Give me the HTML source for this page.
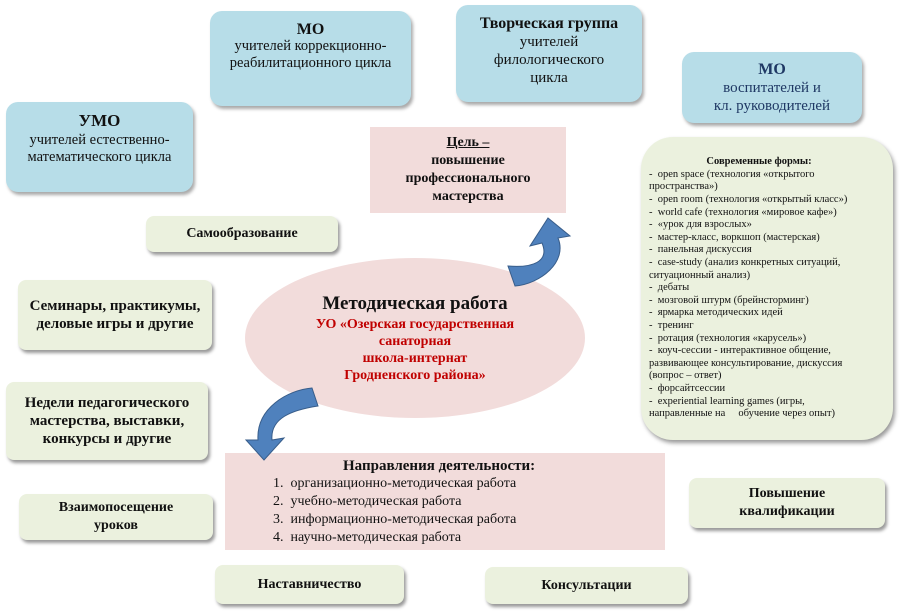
<!DOCTYPE html>
<html><head><meta charset="utf-8"><style>
body{margin:0;width:900px;height:612px;background:#fff;position:relative;overflow:hidden;font-family:"Liberation Serif","DejaVu Serif",serif;color:#111}
.b{position:absolute;box-sizing:border-box;text-align:center;display:flex;flex-direction:column;justify-content:center;align-items:center}
.blue{background:#b7dde8;border-radius:12px;box-shadow:2px 3px 3px #aaa;font-size:14.5px;line-height:17px}
.green{background:#ebf1de;border-radius:8px;box-shadow:2px 3px 3px #999;font-size:14px;font-weight:bold;line-height:18px}
.pink{background:#f2dcdb}
b{font-size:16px}
</style></head><body>
<div class="b blue" style="left:210px;top:11px;width:201px;height:95px;justify-content:flex-start;padding-top:10px"><b>МО</b>учителей коррекционно-<br>реабилитационного цикла</div>
<div class="b blue" style="left:456px;top:5px;width:186px;height:97px;justify-content:flex-start;padding-top:10px;font-size:15px;line-height:18px"><b>Творческая группа</b>учителей<br>филологического<br>цикла</div>
<div class="b blue" style="left:682px;top:52px;width:180px;height:71px;color:#1f3864;font-size:15px;line-height:18px"><b>МО</b>воспитателей и<br>кл. руководителей</div>
<div class="b blue" style="left:6px;top:102px;width:187px;height:90px;justify-content:flex-start;padding-top:8px"><b style="font-size:17px;line-height:22px">УМО</b>учителей естественно-<br>математического цикла</div>
<div class="b pink" style="left:370px;top:127px;width:196px;height:86px;font-size:14px;font-weight:bold;line-height:18px"><u>Цель –</u>повышение<br>профессионального<br>мастерства</div>
<div class="b" style="left:641px;top:137px;width:252px;height:303px;background:#ebf1de;border-radius:32px;box-shadow:2px 3px 4px #999;font-size:10.5px;line-height:12.6px;text-align:left;align-items:flex-start;padding:0 24px 0 8px">
<div style="font-weight:bold;align-self:center">Современные формы:</div>
-&nbsp; open space (технология «открытого пространства»)<br>-&nbsp; open room (технология «открытый класс»)<br>-&nbsp; world cafe (технология «мировое кафе»)<br>-&nbsp; «урок для взрослых»<br>-&nbsp; мастер-класс, воркшоп (мастерская)<br>-&nbsp; панельная дискуссия<br>-&nbsp; case-study (анализ конкретных ситуаций, ситуационный анализ)<br>-&nbsp; дебаты<br>-&nbsp; мозговой штурм (брейнсторминг)<br>-&nbsp; ярмарка методических идей<br>-&nbsp; тренинг<br>-&nbsp; ротация (технология «карусель»)<br>-&nbsp; коуч-сессии - интерактивное общение, развивающее консультирование, дискуссия (вопрос – ответ)<br>-&nbsp; форсайтсессии<br>-&nbsp; experiential learning games (игры, направленные на &nbsp;&nbsp;&nbsp; обучение через опыт)</div>
<div class="b green" style="left:146px;top:216px;width:192px;height:36px">Самообразование</div>
<div class="b green" style="left:18px;top:280px;width:194px;height:70px;font-size:15px">Семинары, практикумы,<br>деловые игры и другие</div>
<div class="b green" style="left:6px;top:382px;width:202px;height:78px;font-size:15px">Недели педагогического<br>мастерства, выставки,<br>конкурсы и другие</div>
<div class="b pink" style="left:245px;top:258px;width:340px;height:160px;border-radius:50%;font-weight:bold;color:#c00000;font-size:14px;line-height:17px"><span style="color:#111;font-size:19px;line-height:24px">Методическая работа</span>УО «Озерская государственная<br>санаторная<br>школа-интернат<br>Гродненского района»</div>
<div class="b pink" style="left:225px;top:453px;width:440px;height:97px;font-size:14px;line-height:18px;align-items:flex-start;padding-left:48px;text-align:left">
<div style="font-weight:bold;font-size:15px;margin-left:70px">Направления деятельности:</div>
1.&nbsp; организационно-методическая работа<br>2.&nbsp; учебно-методическая работа<br>3.&nbsp; информационно-методическая работа<br>4.&nbsp; научно-методическая работа</div>
<div class="b green" style="left:19px;top:494px;width:194px;height:46px">Взаимопосещение<br>уроков</div>
<div class="b green" style="left:689px;top:478px;width:196px;height:50px">Повышение<br>квалификации</div>
<div class="b green" style="left:215px;top:565px;width:189px;height:39px">Наставничество</div>
<div class="b green" style="left:485px;top:567px;width:203px;height:37px">Консультации</div>
<svg width="900" height="612" style="position:absolute;left:0;top:0">
<path d="M515,286 C540,284 568,262 558,238 L570,236 L548,218 L530,246 L542,243 C550,262 532,268 508,266 Z" fill="#4f81bd" stroke="#385d8a"/>
<path d="M312,388 C288,390 256,408 258,440 L246,440 L264,460 L284,438 L272,440 C270,418 292,410 318,406 Z" fill="#4f81bd" stroke="#385d8a"/>
</svg>
</body></html>
